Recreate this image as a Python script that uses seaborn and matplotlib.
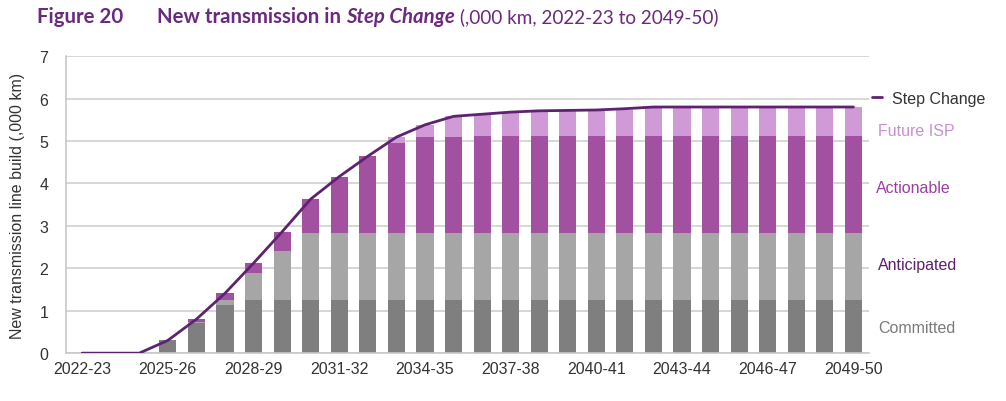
import matplotlib
matplotlib.use("Agg")
import matplotlib.pyplot as plt
import seaborn as sns
import numpy as np
import pandas as pd

# Financial years shown on the x axis
years = ['2022-23', '2023-24', '2024-25', '2025-26', '2026-27', '2027-28', '2028-29',
         '2029-30', '2030-31', '2031-32', '2032-33', '2033-34', '2034-35', '2035-36',
         '2036-37', '2037-38', '2038-39', '2039-40', '2040-41', '2041-42', '2042-43',
         '2043-44', '2044-45', '2045-46', '2046-47', '2047-48', '2048-49', '2049-50']

# Stacked components (,000 km)
committed = [0, 0, 0, 0.30, 0.72, 1.13, 1.25, 1.25, 1.25, 1.25, 1.25, 1.25, 1.25, 1.25,
             1.25, 1.25, 1.25, 1.25, 1.25, 1.25, 1.25, 1.25, 1.25, 1.25, 1.25, 1.25, 1.25, 1.25]
anticipated = [0, 0, 0, 0, 0.02, 0.12, 0.64, 1.15, 1.57, 1.57, 1.57, 1.57, 1.57, 1.57,
               1.57, 1.57, 1.57, 1.57, 1.57, 1.57, 1.57, 1.57, 1.57, 1.57, 1.57, 1.57, 1.57, 1.57]
actionable = [0, 0, 0, 0, 0.06, 0.16, 0.23, 0.46, 0.81, 1.34, 1.82, 2.13, 2.27, 2.27,
              2.29, 2.29, 2.30, 2.30, 2.30, 2.30, 2.30, 2.30, 2.30, 2.30, 2.30, 2.30, 2.30, 2.30]
future_isp = [0, 0, 0, 0, 0, 0, 0, 0, 0, 0, 0, 0.14, 0.29, 0.49,
              0.50, 0.56, 0.57, 0.58, 0.59, 0.62, 0.68, 0.68, 0.68, 0.68, 0.68, 0.68, 0.68, 0.68]

# Step Change total line
step_change = [0, 0, 0, 0.30, 0.80, 1.41, 2.12, 2.86, 3.63, 4.16, 4.64, 5.09, 5.38, 5.58,
               5.63, 5.68, 5.71, 5.72, 5.73, 5.76, 5.80, 5.80, 5.80, 5.80, 5.80, 5.80, 5.80, 5.80]

c_committed = '#7f7f7f'
c_anticipated = '#a6a6a6'
c_actionable = '#a1519f'
c_future = '#cf9ad6'
c_line = '#5e2270'
c_title = '#6a2a7e'

sns.set_style('white')
plt.rcParams['font.family'] = ['Liberation Sans', 'DejaVu Sans']

fig = plt.figure(figsize=(10.06, 4.02), dpi=100)
ax = fig.add_axes([0.066, 0.119, 0.798, 0.739])

df = pd.DataFrame({'Year': years, 'Committed': committed, 'Anticipated': anticipated,
                   'Actionable': actionable, 'Future ISP': future_isp})
layers = ['Committed', 'Anticipated', 'Actionable', 'Future ISP']
colors = [c_committed, c_anticipated, c_actionable, c_future]
cum = df[layers].cumsum(axis=1)

# draw from the top layer down so each lower layer covers the one above
for name, col in zip(layers[::-1], colors[::-1]):
    sns.barplot(x=df['Year'], y=cum[name], color=col, saturation=1, width=0.6,
                order=years, ax=ax, zorder=2, linewidth=0, edgecolor='none')

x_pos = np.arange(len(years))
sns.lineplot(x=x_pos, y=step_change, color=c_line, linewidth=2, ax=ax, zorder=3,
             label='Step Change')

ax.set_ylim(0, 7)
ax.set_xlim(-0.55, len(years) - 0.45)
ax.set_yticks(range(0, 8))
ax.yaxis.grid(True, color='#d0d0d0', linewidth=1.2, zorder=0)
ax.set_axisbelow(True)
ax.set_xticks(x_pos[::3])
ax.set_xticklabels(years[::3])
ax.set_xticks(np.arange(-0.5, len(years), 2), minor=True)
ax.tick_params(axis='x', which='major', length=0, pad=6, labelsize=11.5, labelcolor='#333333')
ax.tick_params(axis='x', which='minor', length=4, color='#c8c8c8', width=1, direction='out')
ax.tick_params(axis='y', length=0, pad=13, labelsize=11.5, labelcolor='#333333')
ax.set_xlabel('')
ax.set_ylabel('New transmission line build (,000 km)', fontsize=11.5, color='#333333', labelpad=10)
for s in ['top', 'right']:
    ax.spines[s].set_visible(False)
for s in ['left', 'bottom']:
    ax.spines[s].set_color('#c8c8c8')
    ax.spines[s].set_linewidth(1.2)

leg = ax.legend(loc='center left', bbox_to_anchor=(0.99, 6 / 7), frameon=False,
                handlelength=0.6, handletextpad=0.6, fontsize=11.5, borderaxespad=0.3)
for t in leg.get_texts():
    t.set_color('#333333')

# Right-hand series labels
fig.text(0.873, 1 - 132 / 402, 'Future ISP', color='#c98fd2', fontsize=11.5, va='center')
fig.text(0.871, 1 - 189 / 402, 'Actionable', color='#9b3f9d', fontsize=11.5, va='center')
fig.text(0.873, 1 - 266 / 402, 'Anticipated', color='#5c1f6e', fontsize=11.5, va='center')
fig.text(0.873, 1 - 329 / 402, 'Committed', color='#7a7a7a', fontsize=11.5, va='center')

# Title built from pieces
renderer = fig.canvas.get_renderer()
tfont = ['Lato', 'DejaVu Sans']
pieces = [('Figure 20', 'bold', 'normal', 14.7, 0.037),
          ('New transmission in ', 'bold', 'normal', 14.7, 0.156),
          ('Step Change', 'bold', 'italic', 14.7, None),
          (' (,000 km, 2022-23 to 2049-50)', 'normal', 'normal', 13.6, None)]
x = 0.0
for text, weight, style, size, start in pieces:
    if start is not None:
        x = start
    t = fig.text(x, 1 - 17 / 402, text, fontsize=size, color=c_title, fontweight=weight,
                 fontstyle=style, family=tfont, va='center', ha='left')
    bb = t.get_window_extent(renderer)
    x = bb.x1 / fig.bbox.width

fig.savefig('out.png', dpi=100)
